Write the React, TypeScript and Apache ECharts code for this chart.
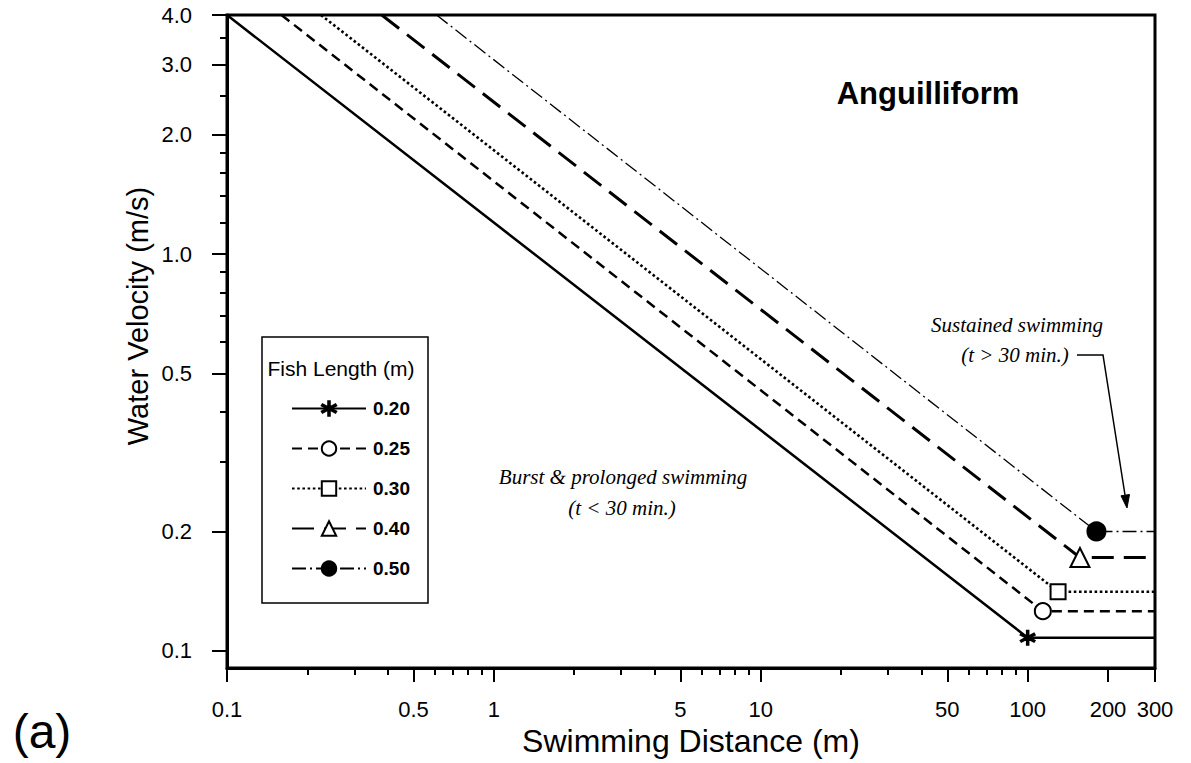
import React, { useEffect, useRef } from "react";
import * as echarts from "echarts";

// ---- data (real units) ----
const fishLengths = ["0.20", "0.25", "0.30", "0.40", "0.50"];
// distance (m) where each curve leaves the 4.0 m/s ceiling
const startDistance = [0.1, 0.16, 0.225, 0.38, 0.61];
// break point between burst/prolonged and sustained swimming
const breakDistance = [100, 114, 130, 157, 181];
const sustainedVelocity = [0.108, 0.126, 0.141, 0.172, 0.2];
const ceilingVelocity = 4.0;
const maxDistance = 300;

// ---- axes ----
const xMin = 0.1;
const xMax = 300;
const yMin = 0.0906;
const yMax = 4.0;
const xMajorTicks = [0.1, 0.5, 1, 5, 10, 50, 100, 200, 300];
const xMajorLabels = ["0.1", "0.5", "1", "5", "10", "50", "100", "200", "300"];
const xMinorTicks = [0.2, 0.3, 0.4, 0.6, 0.7, 0.8, 0.9, 2, 3, 4, 6, 7, 8, 9, 20, 30, 40, 60, 70, 80, 90];
const yMajorTicks = [0.1, 0.2, 0.5, 1, 2, 3, 4];
const yMajorLabels = ["0.1", "0.2", "0.5", "1.0", "2.0", "3.0", "4.0"];
const yMinorTicks = [0.3, 0.4, 0.6, 0.7, 0.8, 0.9, 1.2, 1.4, 1.6, 1.8, 2.5, 3.5];

const L = (v: number) => Math.log10(v);
const FONT = "'Liberation Sans', Arial, Helvetica, sans-serif";
const SERIF = "'Liberation Serif', 'Times New Roman', serif";

const starPath =
  "path://M9,0 L11,0 L11,8.3 L18.2,4.2 L19.2,5.9 L12,10 L19.2,14.1 L18.2,15.8 L11,11.7 L11,20 L9,20 L9,11.7 L1.8,15.8 L0.8,14.1 L8,10 L0.8,5.9 L1.8,4.2 L9,8.3 Z";

const seriesSymbols = [starPath, "emptyCircle", "emptyRect", "emptyTriangle", "circle"];
const seriesSymbolSizes = [14, 16, 15, 19, 18];
const seriesLineTypes: any[] = ["solid", [10, 6], [2.6, 2.6], [22, 10], [14, 4, 2, 4]];
const seriesLineWidths = [2.5, 2.5, 2.6, 3, 1.3];

function labelFor(ticks: number[], labels: string[], v: number) {
  const i = ticks.findIndex((t) => Math.abs(L(t) - v) < 1e-6);
  return i >= 0 ? labels[i] : "";
}

function buildOption() {
  const series = fishLengths.map((name, i) => ({
    type: "line",
    name,
    xAxisIndex: 0,
    yAxisIndex: 0,
    symbol: seriesSymbols[i],
    symbolSize: seriesSymbolSizes[i],
    showAllSymbol: true,
    z: 3,
    lineStyle: { color: "#000", width: seriesLineWidths[i], type: seriesLineTypes[i], cap: "butt" },
    itemStyle: { color: "#000", borderColor: "#000", borderWidth: 2 },
    emphasis: { disabled: true },
    data: [
      { value: [L(startDistance[i]), L(ceilingVelocity)], symbol: "none" },
      { value: [L(breakDistance[i]), L(sustainedVelocity[i])] },
      { value: [L(maxDistance), L(sustainedVelocity[i])], symbol: "none" },
    ],
  }));

  const axisLabelStyle = { color: "#000", fontSize: 22, fontFamily: FONT };

  return {
    animation: false,
    backgroundColor: "#fff",
    grid: {
      left: 227,
      right: 36,
      top: 15,
      bottom: 95,
      show: true,
      borderColor: "#000",
      borderWidth: 3,
      containLabel: false,
    },
    xAxis: [
      {
        type: "value",
        position: "bottom",
        min: L(xMin),
        max: L(xMax),
        name: "Swimming Distance (m)",
        nameLocation: "middle",
        nameGap: 55,
        nameTextStyle: { color: "#000", fontSize: 32, fontFamily: FONT },
        axisLine: { show: true, onZero: false, lineStyle: { color: "#000", width: 3 } },
        axisTick: {
          show: true,
          inside: false,
          length: 14,
          customValues: xMajorTicks.map(L),
          lineStyle: { color: "#000", width: 2 },
        },
        axisLabel: {
          ...axisLabelStyle,
          margin: 30,
          customValues: xMajorTicks.map(L),
          formatter: (v: number) => labelFor(xMajorTicks, xMajorLabels, v),
        },
        splitLine: { show: false },
      },
      {
        type: "value",
        position: "bottom",
        min: L(xMin),
        max: L(xMax),
        axisLine: { show: false, onZero: false },
        axisTick: {
          show: true,
          inside: false,
          length: 7,
          customValues: xMinorTicks.map(L),
          lineStyle: { color: "#000", width: 2 },
        },
        axisLabel: { show: false },
        splitLine: { show: false },
      },
    ],
    yAxis: [
      {
        type: "value",
        position: "left",
        min: L(yMin),
        max: L(yMax),
        axisLine: { show: true, onZero: false, lineStyle: { color: "#000", width: 3 } },
        axisTick: {
          show: true,
          inside: false,
          length: 15,
          customValues: yMajorTicks.map(L),
          lineStyle: { color: "#000", width: 2 },
        },
        axisLabel: {
          ...axisLabelStyle,
          margin: 35,
          customValues: yMajorTicks.map(L),
          formatter: (v: number) => labelFor(yMajorTicks, yMajorLabels, v),
        },
        splitLine: { show: false },
      },
      {
        type: "value",
        position: "left",
        min: L(yMin),
        max: L(yMax),
        axisLine: { show: false, onZero: false },
        axisTick: {
          show: true,
          inside: false,
          length: 7,
          customValues: yMinorTicks.map(L),
          lineStyle: { color: "#000", width: 2 },
        },
        axisLabel: { show: false },
        splitLine: { show: false },
      },
    ],
    legend: {
      show: true,
      orient: "vertical",
      left: 286,
      top: 394,
      itemWidth: 74,
      itemHeight: 18,
      itemGap: 21,
      selectedMode: false,
      data: fishLengths,
      textStyle: { color: "#000", fontSize: 19, fontWeight: "bold", fontFamily: FONT, padding: [0, 0, 0, 2] },
    },
    graphic: [
      {
        type: "rect",
        shape: { x: 262, y: 337, width: 166, height: 266 },
        style: { fill: "none", stroke: "#000", lineWidth: 1.5 },
        z: 10,
      },
      {
        type: "text",
        x: 341,
        y: 368,
        style: {
          text: "Fish Length (m)",
          fill: "#000",
          font: `21px ${FONT}`,
          textAlign: "center",
          textVerticalAlign: "middle",
        },
        z: 10,
      },
      {
        type: "text",
        x: 928,
        y: 93,
        style: {
          text: "Anguilliform",
          fill: "#000",
          font: `bold 31px ${FONT}`,
          textAlign: "center",
          textVerticalAlign: "middle",
        },
      },
      {
        type: "text",
        x: 623,
        y: 477,
        style: {
          text: "Burst & prolonged swimming",
          fill: "#000",
          font: `italic 21px ${SERIF}`,
          textAlign: "center",
          textVerticalAlign: "middle",
        },
      },
      {
        type: "text",
        x: 622,
        y: 508,
        style: {
          text: "(t < 30 min.)",
          fill: "#000",
          font: `italic 21px ${SERIF}`,
          textAlign: "center",
          textVerticalAlign: "middle",
        },
      },
      {
        type: "text",
        x: 1017,
        y: 325,
        style: {
          text: "Sustained swimming",
          fill: "#000",
          font: `italic 21px ${SERIF}`,
          textAlign: "center",
          textVerticalAlign: "middle",
        },
      },
      {
        type: "text",
        x: 1015,
        y: 355,
        style: {
          text: "(t > 30 min.)",
          fill: "#000",
          font: `italic 21px ${SERIF}`,
          textAlign: "center",
          textVerticalAlign: "middle",
        },
      },
      {
        type: "polyline",
        shape: { points: [[1077, 355], [1103, 355], [1125, 495]] },
        style: { stroke: "#000", lineWidth: 1.5, fill: "none" },
      },
      {
        type: "polygon",
        shape: { points: [[1127, 508], [1129.5, 494.5], [1121, 495.8]] },
        style: { fill: "#000", stroke: "#000", lineWidth: 1 },
      },
      {
        type: "text",
        x: 138,
        y: 316,
        rotation: Math.PI / 2,
        style: {
          text: "Water Velocity (m/s)",
          fill: "#000",
          font: `29px ${FONT}`,
          textAlign: "center",
          textVerticalAlign: "middle",
        },
      },
      {
        type: "text",
        x: 42,
        y: 731,
        style: {
          text: "(a)",
          fill: "#000",
          font: `48px ${FONT}`,
          textAlign: "center",
          textVerticalAlign: "middle",
        },
      },
    ],
    series,
  };
}

export default function App() {
  const ref = useRef<HTMLDivElement>(null);
  useEffect(() => {
    if (!ref.current) return;
    const chart = echarts.init(ref.current, null, { renderer: "svg" });
    chart.setOption(buildOption() as any);
    return () => chart.dispose();
  }, []);
  return (
    <div
      ref={ref}
      style={{ position: "fixed", left: 0, top: 0, width: "1191px", height: "763px", background: "#fff" }}
    />
  );
}
